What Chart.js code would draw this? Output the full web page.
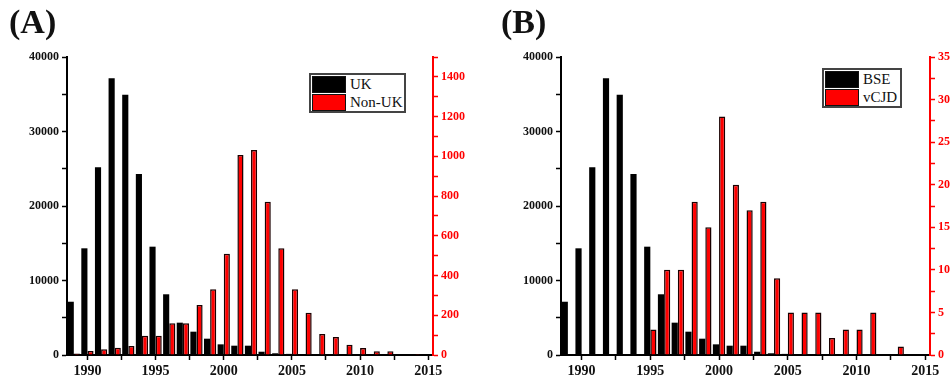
<!DOCTYPE html>
<html>
<head>
<meta charset="utf-8">
<script src="https://cdn.jsdelivr.net/npm/chart.js@4"></script>
<style>
  body { margin: 0; background: #fff; }
  #wrap { position: relative; width: 951px; height: 379px; overflow: hidden; }
  canvas { position: absolute; top: 0; }
  .panel { position: absolute; font: bold 34px 'Liberation Serif', serif; line-height: 1; color: #111; }
  .legend { position: absolute; border: 2px solid #444; background: #fff; box-sizing: border-box;
            font: 15px 'Liberation Serif', serif; color: #111; }
  .row { display: flex; align-items: center; height: 18px; }
  .sw { width: 34px; height: 17px; margin: 0 4px 0 1px; box-sizing: border-box; border: 1.5px solid #111; }
</style>
</head>
<body>
<div id="wrap">
  <canvas id="cA" width="475" height="379" style="left:0"></canvas>
  <canvas id="cB" width="475" height="379" style="left:476px"></canvas>
  <div class="panel" style="left:9px;top:5px">(A)</div>
  <div class="panel" style="left:501px;top:5px">(B)</div>
  <div class="legend" style="left:309px;top:73px;width:97px;height:40px">
    <div class="row"><div class="sw" style="background:#000"></div>UK</div>
    <div class="row"><div class="sw" style="background:#f00"></div>Non-UK</div>
  </div>
  <div class="legend" style="left:822px;top:68px;width:80px;height:40px">
    <div class="row"><div class="sw" style="background:#000"></div>BSE</div>
    <div class="row"><div class="sw" style="background:#f00"></div>vCJD</div>
  </div>
</div>
<script>
const years = [1989, 1990, 1991, 1992, 1993, 1994, 1995, 1996, 1997, 1998, 1999, 2000, 2001,
               2002, 2003, 2004, 2005, 2006, 2007, 2008, 2009, 2010, 2011, 2012, 2013, 2014];
const ukCases = [7150, 14320, 25190, 37140, 34940, 24300, 14540, 8150, 4340, 3130, 2190, 1430, 1250,
                 1250, 440, 230, 150, 80, 50, 30, 12, 11, 5, 3, 3, 1];
const nonUkCases = [8, 20, 29, 37, 45, 97, 97, 160, 160, 252, 331, 510, 1007,
                    1032, 772, 537, 331, 213, 106, 91, 52, 35, 19, 19, 0, 5];
const bseCases = ukCases;
const vcjdDeaths = [0, 0, 0, 0, 0, 0, 3, 10, 10, 18, 15, 28, 20,
                    17, 18, 9, 5, 5, 5, 2, 3, 3, 5, 0, 1, 0];

const xTicks = [1990, 1992.5, 1995, 1997.5, 2000, 2002.5, 2005, 2007.5, 2010, 2012.5, 2015];
const leftTicks = [0, 5000, 10000, 15000, 20000, 25000, 30000, 35000, 40000];
const rightTicksA = [0, 100, 200, 300, 400, 500, 600, 700, 800, 900, 1000, 1100, 1200, 1300, 1400, 1500];
const rightTicksB = [0, 2.5, 5, 7.5, 10, 12.5, 15, 17.5, 20, 22.5, 25, 27.5, 30, 32.5, 35];

const serif = "'Liberation Serif', 'Times New Roman', serif";
const RED = '#ff0000';

function pts(vals) {
  return years.map((y, i) => ({ x: y, y: vals[i] }));
}

function makeChart(id, black, red, o) {
  return new Chart(document.getElementById(id), {
    type: 'bar',
    data: {
      datasets: [
        { data: pts(black), backgroundColor: '#000', borderColor: '#000', borderWidth: 0,
          yAxisID: 'y', categoryPercentage: 0.9, barPercentage: 1 },
        { data: pts(red), backgroundColor: RED, borderColor: '#1a0000', borderWidth: 1.5,
          yAxisID: 'y1', categoryPercentage: 0.9, barPercentage: 1 }
      ]
    },
    options: {
      responsive: false,
      animation: false,
      layout: { padding: { top: 57, left: 0, right: 0, bottom: 0 } },
      plugins: { legend: { display: false }, tooltip: { enabled: false } },
      scales: {
        x: {
          type: 'linear', min: 1988.5, max: 2015.35, offset: false,
          afterBuildTicks: s => { s.ticks = xTicks.map(v => ({ value: v })); },
          afterFit: s => { s.height = 24; },
          grid: { display: true, drawOnChartArea: false, offset: false, tickLength: 5, tickWidth: 1.5, tickColor: '#000' },
          border: { color: '#000', width: 2 },
          ticks: { color: '#111', padding: 3, maxRotation: 0, autoSkip: false,
                   font: { family: serif, size: 14, weight: 'bold' },
                   callback: v => (v % 5 === 0 ? String(v) : '') }
        },
        y: {
          position: 'left', min: 0, max: 40000,
          afterBuildTicks: s => { s.ticks = leftTicks.map(v => ({ value: v })); },
          afterFit: s => { s.width = o.leftW; },
          grid: { drawOnChartArea: false, tickLength: 5, tickWidth: 1.5, tickColor: '#000' },
          border: { color: '#000', width: 2 },
          ticks: { color: '#111', padding: 3, font: { family: serif, size: 12, weight: 'bold' },
                   callback: v => (v % 10000 === 0 ? String(v) : '') }
        },
        y1: {
          position: 'right', min: 0, max: o.rightMax,
          afterBuildTicks: s => { s.ticks = o.rightTicks.map(v => ({ value: v })); },
          afterFit: s => { s.width = o.rightW; },
          grid: { drawOnChartArea: false, tickLength: 5, tickWidth: 1.5, tickColor: RED },
          border: { color: RED, width: 2 },
          ticks: { color: RED, padding: 3, font: { family: serif, size: 12, weight: 'bold' },
                   callback: v => (v % o.rightStep === 0 ? String(v) : '') }
        }
      }
    }
  });
}

makeChart('cA', ukCases, nonUkCases, { leftW: 67, rightW: 42, rightMax: 1500, rightTicks: rightTicksA, rightStep: 200 });
makeChart('cB', bseCases, vcjdDeaths, { leftW: 85, rightW: 21, rightMax: 35, rightTicks: rightTicksB, rightStep: 5 });
</script>
</body>
</html>
